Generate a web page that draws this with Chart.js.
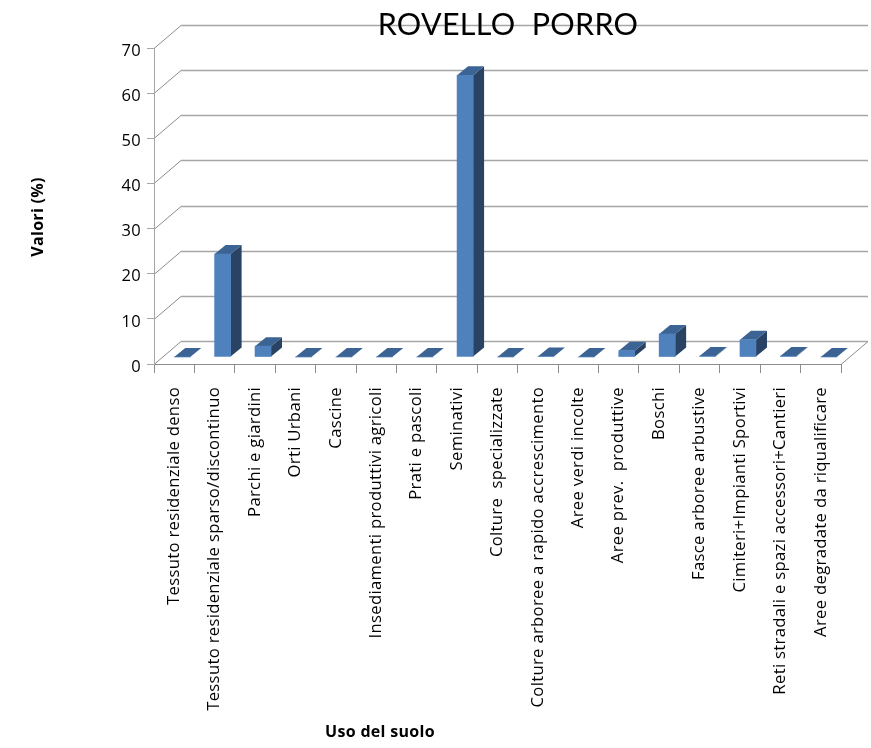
<!DOCTYPE html>
<html>
<head>
<meta charset="utf-8">
<style>
  html, body { margin: 0; padding: 0; background: #fff; }
  canvas { display: block; }
</style>
<script src="https://cdn.jsdelivr.net/npm/chart.js@4"></script>
</head>
<body>
<canvas id="chart" width="871" height="748"></canvas>
<script>
const TITLE = 'ROVELLO  PORRO';
const Y_TITLE = 'Valori (%)';
const X_TITLE = 'Uso del suolo';

const categories = [
    'Tessuto residenziale denso',
    'Tessuto residenziale sparso/discontinuo',
    'Parchi e giardini',
    'Orti Urbani',
    'Cascine',
    'Insediamenti produttivi agricoli',
    'Prati e pascoli',
    'Seminativi',
    'Colture  specializzate',
    'Colture arboree a rapido accrescimento',
    'Aree verdi incolte',
    'Aree prev.  produttive',
    'Boschi',
    'Fasce arboree arbustive',
    'Cimiteri+Impianti Sportivi',
    'Reti stradali e spazi accessori+Cantieri',
    'Aree degradate da riqualificare',
];
const values = [0, 22.8, 2.4, 0, 0, 0, 0, 62.4, 0, 0.1, 0, 1.4, 5.1, 0.2, 3.8, 0.2, 0];

const FONT = '"Open Sans", "Noto Sans", sans-serif';
const TITLE_FONT = 'Lato, "Open Sans", sans-serif';
const GRID = '#a6a6a6';
const SLANT = '#8c8c8c';
// depth of the floor and of the bars, the bars stand in the middle of the floor
const WALL = { x: 27, y: -23 };
const SEAT = { x: 8, y: -7 };
const DEPTH = { x: 11, y: -9 };

function line(ctx, x1, y1, x2, y2) {
    ctx.beginPath();
    ctx.moveTo(x1, y1);
    ctx.lineTo(x2, y2);
    ctx.stroke();
}

function face(ctx, color, points) {
    ctx.fillStyle = color;
    ctx.beginPath();
    points.forEach(([x, y], i) => (i ? ctx.lineTo(x, y) : ctx.moveTo(x, y)));
    ctx.closePath();
    ctx.fill();
}

const walls = {
    id: 'walls',
    beforeDraw(chart) {
        const { ctx, scales: { y }, chartArea: { left, right } } = chart;
        ctx.save();
        ctx.lineWidth = 1;
        y.ticks.forEach(({ value }) => {
            const py = Math.round(y.getPixelForValue(value)) + 0.5;
            ctx.strokeStyle = SLANT;
            line(ctx, left, py, left + WALL.x, py + WALL.y);
            ctx.strokeStyle = GRID;
            ctx.lineWidth = 1.5;
            line(ctx, left + WALL.x, py + WALL.y, right + WALL.x, py + WALL.y);
            ctx.lineWidth = 1;
        });
        const base = Math.round(y.getPixelForValue(0)) + 0.5;
        ctx.strokeStyle = SLANT;
        line(ctx, right, base, right + WALL.x, base + WALL.y);
        ctx.restore();
        // labels of the source are spaced a little wider than the font
        ctx.letterSpacing = '0.3px';
    },
};

const bars3d = {
    id: 'bars3d',
    beforeDatasetDraw(chart, { meta }) {
        const { ctx } = chart;
        ctx.save();
        ctx.translate(SEAT.x, SEAT.y);
        meta.data.forEach((bar) => {
            const { x, y, base, width } = bar.getProps(['x', 'y', 'base', 'width']);
            const l = x - width / 2;
            const r = x + width / 2;
            face(ctx, '#2a4365', [[r, y], [r + DEPTH.x, y + DEPTH.y], [r + DEPTH.x, base + DEPTH.y], [r, base]]);
            face(ctx, '#3b6494', [[l, y], [l + DEPTH.x, y + DEPTH.y], [r + DEPTH.x, y + DEPTH.y], [r, y]]);
        });
    },
    afterDatasetDraw(chart) {
        chart.ctx.restore();
    },
};

const axisTitles = {
    id: 'axisTitles',
    afterLayout(chart) {
        // the reference title is centred over the back wall, not the canvas
        const box = chart.titleBlock;
        box.left = 508 - chart.width / 2;
        box.right = box.left + chart.width;
    },
    afterDraw(chart) {
        const { ctx } = chart;
        ctx.save();
        ctx.fillStyle = '#000';
        ctx.font = 'bold 16px ' + FONT;
        ctx.textAlign = 'center';
        ctx.textBaseline = 'middle';
        ctx.fillText(X_TITLE, 380, 732);
        ctx.translate(38, 217);
        ctx.rotate(-Math.PI / 2);
        ctx.fillText(Y_TITLE, 0, 0);
        ctx.restore();
    },
};

new Chart(document.getElementById('chart'), {
    type: 'bar',
    plugins: [walls, bars3d, axisTitles],
    data: {
        labels: categories,
        datasets: [{
            data: values,
            backgroundColor: '#4f81bd',
            barThickness: 16,
            clip: false,
        }],
    },
    options: {
        responsive: false,
        animation: false,
        layout: { padding: { top: 5, right: 30 } },
        plugins: {
            legend: { display: false },
            tooltip: { enabled: false },
            title: {
                display: true,
                text: TITLE,
                color: '#000',
                font: { family: TITLE_FONT, size: 30.5, weight: 'normal', lineHeight: 1.2 },
                padding: { top: 2, bottom: 4.4 },
            },
        },
        scales: {
            x: {
                afterFit(scale) { scale.height = 384; },
                grid: { drawOnChartArea: false, offset: true, color: SLANT, tickLength: 9 },
                border: { color: SLANT },
                ticks: {
                    autoSkip: false,
                    minRotation: 90,
                    maxRotation: 90,
                    color: '#000',
                    padding: 14,
                    font: { family: FONT, size: 16.7 },
                },
            },
            y: {
                min: 0,
                max: 70,
                afterFit(scale) { scale.width = 154; },
                grid: { drawOnChartArea: false, color: GRID, tickLength: 7 },
                border: { color: GRID },
                ticks: {
                    stepSize: 10,
                    color: '#000',
                    padding: 6,
                    labelOffset: 3,
                    font: { family: FONT, size: 16.5 },
                },
            },
        },
    },
});
</script>
</body>
</html>
